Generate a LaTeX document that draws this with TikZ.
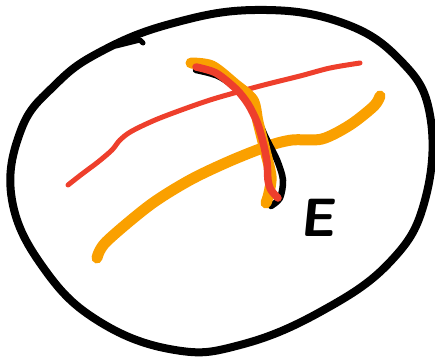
\documentclass[tikz,border=0pt]{standalone}
\usepackage{tikz}
\definecolor{skred}{HTML}{EE3F2C}
\definecolor{skorange}{HTML}{FAA000}
\tikzset{
  blob/.style={draw=black,line width=8pt,line cap=round,line join=round},
  redthin/.style={draw=skred,line width=5pt,line cap=round,line join=round},
  redthick/.style={draw=skred,line width=7.5pt,line cap=round,line join=round},
  orthick/.style={draw=skorange,line width=11pt,line cap=round,line join=round},
  inkthick/.style={draw=black,line width=6.5pt,line cap=round,line join=round},
  lab/.style={font=\fontsize{54}{54}\selectfont\sffamily\bfseries,text=black,inner sep=0pt},
}
\begin{document}
\begin{tikzpicture}[x=1pt,y=-1pt]
  \useasboundingbox (0,0) rectangle (435,361);
  % outline
  \draw[blob] plot[smooth cycle,tension=0.7] coordinates {
    (100,52) (170,24) (255,10) (340,22) (400,60) (430,115) (425,200)
    (390,262) (320,312) (240,345) (175,350) (100,322) (45,270) (12,200)
    (21,130) (55,85)};
  \draw[blob,line width=5pt] (116,46) -- (140,40) -- (143,43);
  % curves
  \draw[redthin] plot[smooth] coordinates {
    (68,185) (82,174) (98,162) (112,150) (120,140) (132,131) (160,118)
    (210,100) (260,86) (300,76) (330,68) (360,63)};
  \draw[orthick] plot[smooth] coordinates {
    (97,258) (106,242) (150,205) (190,180) (230,161) (268,146) (292,140)
    (322,139) (350,125) (374,106) (380,96)};
  \draw[inkthick] plot[smooth] coordinates {
    (196,70) (218,76) (238,90) (254,112) (266,138) (277,160) (283,180) (280,198) (271,206)};
  \draw[orthick] plot[smooth] coordinates {
    (191,63) (212,66) (235,84) (253,100) (258,122) (265,150) (271,176)
    (269,193) (266,203)};
  \draw[redthick] plot[smooth] coordinates {
    (196,67) (216,73) (236,89) (248,104) (257,122) (263,142) (267,162)
    (268,180) (271,190) (278,198)};
  % label
  \node[lab,xslant=0.1] (e) at (320,218) {E};
\end{tikzpicture}
\end{document}
